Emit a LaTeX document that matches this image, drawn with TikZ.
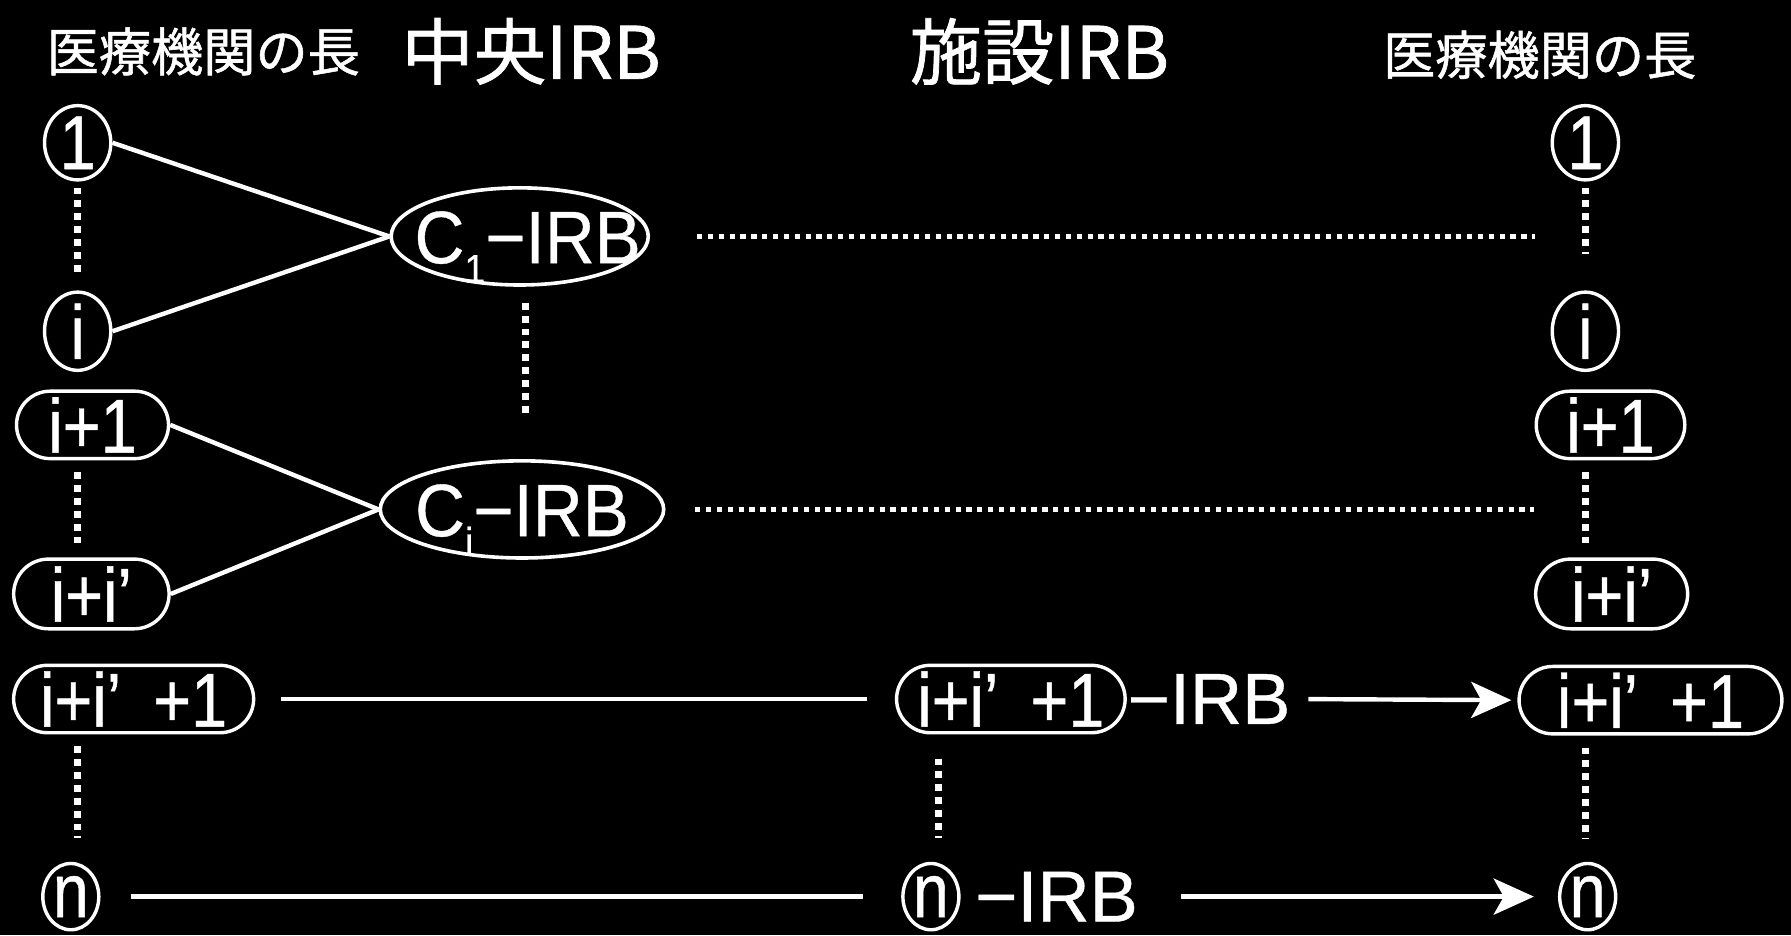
\documentclass[tikz,border=0pt]{standalone}
\usepackage{fontspec}
\setmainfont{Liberation Sans}
\newfontfamily\jp[FakeBold=1]{Noto Sans CJK JP}
\newfontfamily\cond[FakeStretch=0.85,FakeBold=0.6]{Liberation Sans}
\newfontfamily\lbl[FakeBold=0.5]{Liberation Sans}
\newfontfamily\brd[FakeStretch=0.93,FakeBold=0.5]{Liberation Sans}
\newcommand{\zerobox}[1]{\makebox[0pt]{\raisebox{-0.36em}[0pt][0pt]{#1}}}
\newcommand{\ipp}{i+i’\hspace{0.42em}+1}
\usetikzlibrary{shapes.geometric,shapes.misc,arrows.meta}
\begin{document}
\begin{tikzpicture}[x=0.01cm,y=-0.01cm,
  every node/.style={text=white},
  circ/.style={draw=white,line width=0.85pt,ellipse,inner sep=0pt,minimum width=0.58cm,minimum height=0.61cm,font=\cond\fontsize{19}{19}\selectfont},
  pill/.style={draw=white,line width=0.85pt,rounded rectangle,inner sep=0pt,minimum height=0.59cm,font=\cond\fontsize{19}{19}\selectfont},
  board/.style={draw=white,line width=0.9pt,ellipse,inner sep=0pt,minimum height=0.85cm,font=\brd\fontsize{18.5}{18.5}\selectfont},
  head/.style={font=\jp\fontsize{13}{13}\selectfont,inner sep=0pt},
  bighead/.style={font=\jp\fontsize{18}{18}\selectfont,inner sep=0pt},
  link/.style={draw=white,line width=1.1pt},
  vdots/.style={draw=white,line width=1.7pt,dash pattern=on 1.7pt off 1.5pt},
  hdots/.style={draw=white,line width=1.1pt,dash pattern=on 1.3pt off 1.4pt},
  arr/.style={link,-{Stealth[length=10pt,width=9pt,inset=2.5pt]}},
  lab/.style={font=\lbl\fontsize{18}{18}\selectfont,inner sep=0pt}
]
\fill[black] (0,0) rectangle (1568,819);
\useasboundingbox (0,0) rectangle (1568,819);

% headers
\node[head] (hL) at (178,45) {医療機関の長};
\node[bighead] (hC) at (465,45) {中央IRB};
\node[bighead] (hS) at (910,45) {施設IRB};
\node[head] (hR) at (1348,48) {医療機関の長};

% left column
\node[circ] (n1) at (68,125) {1};
\node[circ] (ni) at (68,290) {i};
\node[pill,minimum width=1.33cm] (ip1) at (81,372) {i+1};
\node[pill,minimum width=1.36cm,minimum height=0.61cm] (iip) at (80,520) {i+i’};
\node[pill,minimum width=2.10cm] (iip1) at (117,612) {\ipp};
\node[circ,minimum width=0.49cm,minimum height=0.58cm] (nn) at (62,785) {n};

% central IRBs
\node[board,minimum width=2.25cm] (c1) at (455,207) {\zerobox{\hspace{0.14cm}C\raisebox{-0.5ex}{\fontsize{10}{10}\selectfont 1}−IRB}};
\node[board,minimum width=2.48cm] (ci) at (457,446) {\zerobox{C\raisebox{-0.5ex}{\fontsize{10}{10}\selectfont i}−IRB}};

% middle
\node[pill,minimum width=2.0cm] (miip1) at (885,612) {\ipp};
\node[lab,anchor=west] (mlab1) at (miip1.east) {−IRB};
\node[circ,minimum width=0.49cm,minimum height=0.58cm] (mn) at (815,785) {n};
\node[lab,anchor=west] (mlabn) at ([xshift=0.12cm]mn.east) {−IRB};

% right column
\node[circ] (r1) at (1388,125) {1};
\node[circ] (ri) at (1388,290) {i};
\node[pill,minimum width=1.30cm] (rip1) at (1410,372) {i+1};
\node[pill,minimum width=1.33cm,minimum height=0.61cm] (riip) at (1411,520) {i+i’};
\node[pill,minimum width=2.30cm] (riip1) at (1445,613) {\ipp};
\node[circ,minimum width=0.49cm,minimum height=0.58cm] (rn) at (1390,785) {n};

% solid links to central IRBs
\draw[link] (n1.east) -- (c1.west);
\draw[link] (ni.east) -- (c1.west);
\draw[link] (ip1.east) -- (ci.west);
\draw[link] (iip.east) -- (ci.west);

% vertical dots
\draw[vdots,shorten <=1.5pt,shorten >=4pt] (n1.south) -- (ni.north);
\draw[vdots,shorten <=3pt,shorten >=3pt] (ip1.south -| n1) -- (iip.north -| n1);
\draw[vdots,shorten <=3pt,shorten >=6pt] (iip1.south -| n1) -- (nn.north -| n1);
\draw[vdots,shorten <=4pt,shorten >=11pt] (c1.south -| 460,0) -- (ci.north -| 460,0);
\draw[vdots,shorten <=1.5pt,shorten >=9pt] (r1.south) -- (ri.north);
\draw[vdots,shorten <=3pt,shorten >=2pt] (rip1.south -| r1) -- (riip.north -| r1);
\draw[vdots,shorten <=3pt,shorten >=6pt] (riip1.south -| r1) -- (rn.north -| r1);
\draw[vdots,shorten <=6pt,shorten >=6pt] (miip1.south -| 822,0) -- (mn.north -| 822,0);

% horizontal dotted lines
\draw[hdots,shorten <=11.7pt] (c1.east) -- (c1 -| rip1.west);
\draw[hdots,shorten <=7.4pt] (ci.east) -- (ci -| riip.west);

% bottom flows
\draw[link,shorten <=6.5pt,shorten >=7pt] (iip1.east) -- (miip1.west);
\draw[arr,shorten <=4.3pt,shorten >=1.5pt] (mlab1.east) -- (riip1.west);
\draw[link,shorten <=7.5pt,shorten >=9.4pt] (nn.east) -- (mn.west);
\draw[arr,shorten <=10.5pt,shorten >=6pt] (mlabn.east) -- (rn.west);
\end{tikzpicture}
\end{document}
